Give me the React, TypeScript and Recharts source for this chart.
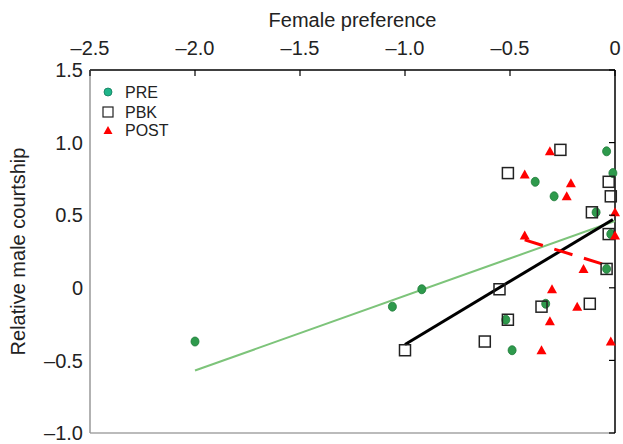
import { ScatterChart, Scatter, XAxis, YAxis, ReferenceLine, Label } from 'recharts';

// Female preference (x) vs relative male courtship (y)
const PRE_X = [-2.0, -1.06, -0.92, -0.04, -0.01, -0.38, -0.29, -0.09, -0.02, -0.04, -0.33, -0.52, -0.49];
const PRE_Y = [-0.37, -0.13, -0.01, 0.94, 0.79, 0.73, 0.63, 0.52, 0.37, 0.13, -0.11, -0.22, -0.43];

const PBK_X = [-1.0, -0.62, -0.51, -0.55, -0.35, -0.12, -0.04, -0.03, -0.11, -0.02, -0.03, -0.51, -0.26];
const PBK_Y = [-0.43, -0.37, -0.22, -0.01, -0.13, -0.11, 0.13, 0.37, 0.52, 0.63, 0.73, 0.79, 0.95];

const POST_X = [-0.31, -0.43, -0.21, -0.23, 0.0, 0.0, -0.43, -0.15, -0.3, -0.18, -0.31, -0.02, -0.35];
const POST_Y = [0.94, 0.78, 0.72, 0.63, 0.52, 0.36, 0.36, 0.13, -0.01, -0.13, -0.23, -0.37, -0.43];

// regression lines (end points)
const PRE_FIT_X = [-2.0, 0];
const PRE_FIT_Y = [-0.57, 0.46];
const PBK_FIT_X = [-1.0, -0.01];
const PBK_FIT_Y = [-0.39, 0.47];
const POST_FIT_X = [-0.43, -0.04];
const POST_FIT_Y = [0.33, 0.155];

const X_TICKS = [-2.5, -2, -1.5, -1, -0.5, 0];
const Y_TICKS = [-1, -0.5, 0, 0.5, 1, 1.5];

const zip = (xs: number[], ys: number[]) => xs.map((x, i) => ({ x, y: ys[i] }));
const fmt = (v: number) => (v === 0 ? '0' : (v < 0 ? '\u2013' : '') + Math.abs(v).toFixed(1));

const TEXT = '#222';

function TopTick({ x, y, payload }: any) {
  return (
    <g>
      <line x1={x} x2={x} y1={y + 15} y2={y + 21} stroke="#000" strokeWidth={1.2} />
      <text x={x} y={y} textAnchor="middle" fontSize={20} fill={TEXT}>
        {fmt(payload.value)}
      </text>
    </g>
  );
}

function LeftTick({ x, y, payload }: any) {
  return (
    <text x={x} y={y} dy="0.36em" textAnchor="end" fontSize={20} fill={TEXT}>
      {fmt(payload.value)}
    </text>
  );
}

function RightTick({ x, y }: any) {
  return <line x1={x - 6} x2={x} y1={y} y2={y} stroke="#000" strokeWidth={1.2} />;
}

const PreDot = ({ cx, cy }: any) => (
  <ellipse cx={cx} cy={cy} rx={4} ry={4.5} fill="#2e9a4c" stroke="#1d7a37" strokeWidth={0.8} />
);
const PbkSquare = ({ cx, cy }: any) => (
  <rect x={cx - 5.5} y={cy - 5.5} width={11} height={11} fill="none" stroke="#222" strokeWidth={1.5} />
);
const PostTri = ({ cx, cy }: any) => (
  <polygon points={`${cx},${cy - 5} ${cx - 5},${cy + 4} ${cx + 5},${cy + 4}`} fill="#ff0000" />
);
const NoShape = () => <g />;

function LegendBox() {
  return (
    <svg width={80} height={60} style={{ position: 'absolute', left: 100, top: 82 }}>
      <circle cx={8} cy={10} r={4} fill="#1fb58a" stroke="#137a5a" strokeWidth={0.8} />
      <text x={25} y={10} dy="0.36em" fontSize={16} fill={TEXT}>PRE</text>
      <rect x={3} y={25} width={10} height={10} fill="none" stroke="#222" strokeWidth={1.2} />
      <text x={25} y={30} dy="0.36em" fontSize={16} fill={TEXT}>PBK</text>
      <polygon points="8,44 3.5,52 12.5,52" fill="#ff0000" />
      <text x={25} y={48} dy="0.36em" fontSize={16} fill={TEXT}>POST</text>
    </svg>
  );
}

export default function App() {
  return (
    <div
      style={{
        position: 'absolute',
        left: 0,
        top: 0,
        width: 623,
        height: 444,
        background: '#fff',
        fontFamily: '"Liberation Sans", Arial, sans-serif',
      }}
    >
      <ScatterChart width={623} height={444} margin={{ top: 30, right: 7, bottom: 11, left: 30 }}>
        <XAxis
          dataKey="x"
          type="number"
          orientation="top"
          domain={[-2.5, 0]}
          ticks={X_TICKS}
          interval={0}
          height={40}
          tickSize={0}
          tickMargin={15}
          tickLine={false}
          tick={<TopTick />}
          axisLine={{ stroke: '#000', strokeWidth: 1.5 }}
        >
          <Label
            content={({ viewBox }: any) => (
              <text x={viewBox.x + viewBox.width / 2} y={viewBox.y - 3} textAnchor="middle" fontSize={20} fill={TEXT}>
                Female preference
              </text>
            )}
          />
        </XAxis>
        <YAxis
          dataKey="y"
          type="number"
          domain={[-1, 1.5]}
          ticks={Y_TICKS}
          interval={0}
          width={60}
          tickSize={0}
          tickMargin={7}
          tickLine={false}
          tick={<LeftTick />}
          axisLine={{ stroke: '#999', strokeWidth: 1.5 }}
        >
          <Label
            content={({ viewBox }: any) => {
              const cx = 25;
              const cy = viewBox.y + viewBox.height / 2;
              return (
                <text x={cx} y={cy} transform={`rotate(-90 ${cx} ${cy})`} textAnchor="middle" fontSize={20} fill={TEXT}>
                  Relative male courtship
                </text>
              );
            }}
          />
        </YAxis>
        <YAxis
          yAxisId="r"
          dataKey="y"
          type="number"
          orientation="right"
          domain={[-1, 1.5]}
          ticks={Y_TICKS}
          interval={0}
          width={1}
          tickSize={0}
          tickMargin={0}
          tickLine={false}
          tick={<RightTick />}
          axisLine={{ stroke: '#000', strokeWidth: 1.5 }}
        />
        <ReferenceLine y={-1} stroke="#bbb" strokeWidth={2} />

        <Scatter
          name="PRE fit"
          data={zip(PRE_FIT_X, PRE_FIT_Y)}
          line={{ stroke: '#7dc47a', strokeWidth: 2 }}
          fill="#7dc47a"
          shape={<NoShape />}
          legendType="none"
          isAnimationActive={false}
        />
        <Scatter
          name="PBK fit"
          yAxisId="r"
          data={zip(PBK_FIT_X, PBK_FIT_Y)}
          line={{ stroke: '#000', strokeWidth: 3 }}
          fill="#000"
          shape={<NoShape />}
          legendType="none"
          isAnimationActive={false}
        />
        <Scatter
          name="POST fit"
          data={zip(POST_FIT_X, POST_FIT_Y)}
          line={{ stroke: '#ff0000', strokeWidth: 3, strokeDasharray: '19 12' }}
          fill="#ff0000"
          shape={<NoShape />}
          legendType="none"
          isAnimationActive={false}
        />

        <Scatter name="PRE" data={zip(PRE_X, PRE_Y)} shape={<PreDot />} isAnimationActive={false} />
        <Scatter name="PBK" data={zip(PBK_X, PBK_Y)} shape={<PbkSquare />} isAnimationActive={false} />
        <Scatter name="POST" data={zip(POST_X, POST_Y)} shape={<PostTri />} isAnimationActive={false} />
      </ScatterChart>
      <LegendBox />
    </div>
  );
}
